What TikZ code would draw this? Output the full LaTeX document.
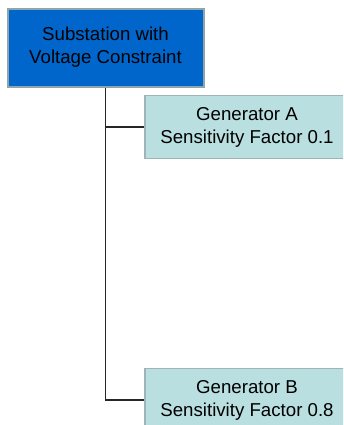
\documentclass[tikz,border=0pt]{standalone}
\usepackage{fontspec}
\setmainfont{Liberation Sans}
\definecolor{subblue}{HTML}{0066CC}
\definecolor{subedge}{HTML}{8FA5AD}
\definecolor{genfill}{HTML}{B9DFE1}
\definecolor{genedge}{HTML}{9FB4B6}
\tikzset{
  subbox/.style={draw=subedge,line width=1.5pt,fill=subblue,minimum width=147pt,minimum height=58.5pt,align=center,inner sep=0pt},
  genbox/.style={draw=genedge,line width=1.2pt,fill=genfill,minimum width=153pt,minimum height=47pt,align=center,inner sep=0pt},
  link/.style={draw=black!85,line width=0.8pt}
}
\begin{document}
\begin{tikzpicture}[x=0.75pt,y=-0.75pt,font=\fontsize{14}{17.2}\selectfont]
\path[use as bounding box,clip] (0,0) rectangle (343,425);
\node[subbox] (sub) at (105.5,47.5) {Substation with\\Voltage Constraint};
\node[genbox] (genA) at (247,127) {Generator A\\Sensitivity Factor 0.1};
\node[genbox] (genB) at (247,400) {Generator B\\Sensitivity Factor 0.8};
\draw[link] (sub.south) -- (sub.south |- genB.west) -- (genB.west);
\draw[link] (sub.south |- genA.west) -- (genA.west);
\end{tikzpicture}
\end{document}
